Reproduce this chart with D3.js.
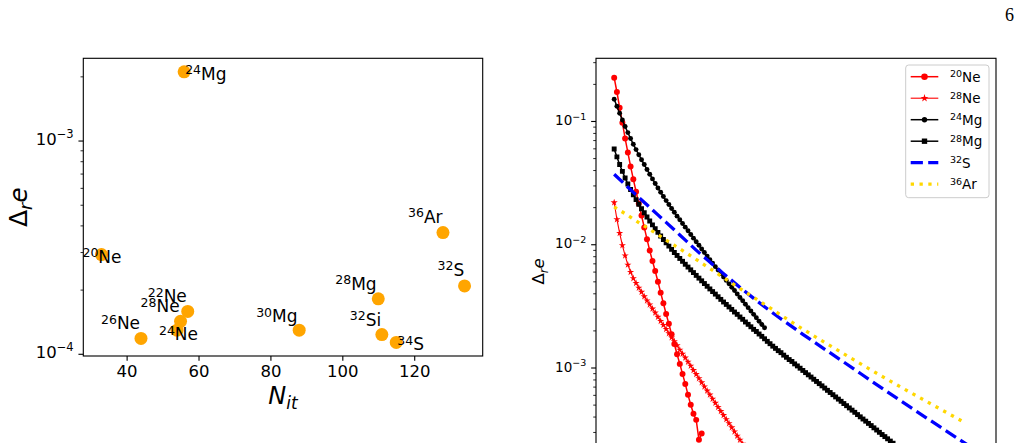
<!DOCTYPE html>
<html>
<head>
<meta charset="utf-8">
<script src="https://cdn.jsdelivr.net/npm/d3@7"></script>
<style>
  body { margin: 0; background: #fff; }
  text { font-family: "DejaVu Sans", sans-serif; }
</style>
</head>
<body>
<svg id="fig" width="1021" height="443"></svg>
<script>
// ---------- left panel: final residual vs number of iterations
const isoA = [24, 20, 36, 32, 28, 22, 28, 26, 24, 30, 32, 34]
const isoEl = ['Mg', 'Ne', 'Ar', 'S', 'Mg', 'Ne', 'Ne', 'Ne', 'Ne', 'Mg', 'Si', 'S']
const nIt = [56, 33, 128, 134, 110, 57, 55, 44, 54, 88, 111, 115]
const dRe = [2.1e-3, 2.92e-4, 3.7e-4, 2.08e-4, 1.81e-4, 1.58e-4, 1.42e-4, 1.18e-4, 1.29e-4, 1.29e-4, 1.23e-4, 1.13e-4]
// where each annotation sits relative to its marker (px)
const labDx = [1, -19, -35, -27, -43, -40, -40, -40, -18, -43, -32, 1]
const labDy = [8, 8, -10, -10, -9, -9, -9, -9, 10, -8, -9, 8]
const leftXTicks = [40, 60, 80, 100, 120]

// ---------- right panel: residual per iteration
const ne20 = [0.2245, 0.1718, 0.1283, 0.0969, 0.0722, 0.0556, 0.0428, 0.0337, 0.0267, 0.0214,
  0.0171, 0.0137, 0.0110, 8.88e-3, 7.32e-3, 6.07e-3, 4.97e-3, 4.05e-3, 3.32e-3, 2.72e-3,
  2.26e-3, 1.86e-3, 1.55e-3, 1.28e-3, 1.07e-3, 8.87e-4, 7.36e-4, 6.00e-4, 4.98e-4, 4.21e-4,
  3.76e-4, 2.59e-4, 2.92e-4]
const ne28 = [0.0218, 0.0159, 0.0123, 9.80e-3, 8.08e-3, 6.81e-3, 5.94e-3, 5.29e-3, 4.84e-3, 4.43e-3,
  4.10e-3, 3.77e-3, 3.49e-3, 3.24e-3, 3.00e-3, 2.78e-3, 2.57e-3, 2.38e-3, 2.21e-3, 2.05e-3,
  1.89e-3, 1.75e-3, 1.63e-3, 1.51e-3, 1.39e-3, 1.29e-3, 1.20e-3, 1.11e-3, 1.03e-3, 9.51e-4,
  8.81e-4, 8.16e-4, 7.56e-4, 7.00e-4, 6.48e-4, 6.01e-4, 5.56e-4, 5.15e-4, 4.77e-4, 4.42e-4,
  4.10e-4, 3.80e-4, 3.52e-4, 3.26e-4, 3.02e-4, 2.79e-4, 2.59e-4, 2.40e-4, 2.22e-4, 2.06e-4,
  1.91e-4, 1.77e-4, 1.64e-4, 1.53e-4, 1.42e-4]
const mg24 = [0.150, 0.1316, 0.1157, 0.1019, 0.0903, 0.0805, 0.0721, 0.0648, 0.0586, 0.0532,
  0.0485, 0.0443, 0.0404, 0.0370, 0.0339, 0.0311, 0.0286, 0.0264, 0.0244, 0.0226,
  0.0210, 0.0195, 0.0182, 0.0169, 0.0158, 0.01475, 0.01376, 0.01285, 0.01199, 0.01121,
  0.01048, 9.80e-3, 9.16e-3, 8.56e-3, 8.01e-3, 7.50e-3, 7.03e-3, 6.58e-3, 6.17e-3, 5.78e-3,
  5.42e-3, 5.09e-3, 4.77e-3, 4.48e-3, 4.21e-3, 3.95e-3, 3.70e-3, 3.48e-3, 3.26e-3, 3.06e-3,
  2.87e-3, 2.70e-3, 2.53e-3, 2.37e-3, 2.23e-3, 2.10e-3]
const mg28 = [0.0593, 0.0511, 0.0444, 0.0390, 0.0345, 0.0308, 0.0278, 0.0252, 0.0230, 0.0211,
  0.0194, 0.0180, 0.01665, 0.01545, 0.01437, 0.01338, 0.01249, 0.01168, 0.01094, 0.01027,
  9.65e-3, 9.09e-3, 8.58e-3, 8.11e-3, 7.67e-3, 7.27e-3, 6.88e-3, 6.53e-3, 6.20e-3, 5.89e-3,
  5.59e-3, 5.31e-3, 5.05e-3, 4.80e-3, 4.56e-3, 4.34e-3, 4.13e-3, 3.94e-3, 3.75e-3, 3.57e-3,
  3.40e-3, 3.25e-3, 3.10e-3, 2.96e-3, 2.82e-3, 2.70e-3, 2.57e-3, 2.46e-3, 2.34e-3, 2.24e-3,
  2.14e-3, 2.04e-3, 1.96e-3, 1.87e-3, 1.79e-3, 1.71e-3, 1.63e-3, 1.56e-3, 1.49e-3, 1.43e-3,
  1.37e-3, 1.32e-3, 1.26e-3, 1.21e-3, 1.16e-3, 1.12e-3, 1.07e-3, 1.03e-3, 9.87e-4, 9.47e-4,
  9.09e-4, 8.72e-4, 8.37e-4, 8.03e-4, 7.71e-4, 7.40e-4, 7.10e-4, 6.81e-4, 6.53e-4, 6.27e-4,
  6.02e-4, 5.77e-4, 5.54e-4, 5.32e-4, 5.10e-4, 4.90e-4, 4.70e-4, 4.51e-4, 4.33e-4, 4.15e-4,
  3.98e-4, 3.82e-4, 3.67e-4, 3.52e-4, 3.38e-4, 3.24e-4, 3.11e-4, 2.98e-4, 2.86e-4, 2.75e-4,
  2.64e-4, 2.53e-4, 2.43e-4, 2.33e-4, 2.24e-4, 2.15e-4, 2.06e-4, 1.98e-4, 1.89e-4, 1.81e-4]
const s32Iter = [1, 5, 10, 15, 20, 25, 32, 40, 48, 56, 70, 85, 100, 115, 128, 134]
const s32Vals = [0.0370, 0.0305, 0.0240, 0.0190, 0.01505, 0.0119, 8.55e-3, 6.03e-3, 4.29e-3, 3.11e-3,
  1.86e-3, 1.106e-3, 6.55e-4, 3.93e-4, 2.54e-4, 2.08e-4]
const ar36Iter = [1, 5, 10, 15, 20, 25, 32, 40, 48, 56, 70, 85, 100, 115, 128]
const ar36Vals = [0.0201, 0.0177, 0.0150, 0.0128, 0.0108, 9.19e-3, 7.28e-3, 5.54e-3, 4.23e-3, 3.25e-3,
  2.05e-3, 1.29e-3, 8.22e-4, 5.34e-4, 3.70e-4]
const rightYDomain = [1.12e-4, 0.3225]
const rightYTicks = [1e-4, 1e-3, 1e-2, 1e-1]

const svg = d3.select('#fig')
const ptPx = 100 / 72

// matplotlib-like 5% margins
function padLin(ext) { const m = (ext[1] - ext[0]) * 0.05; return [ext[0] - m, ext[1] + m] }
function padLog(ext) {
  const a = Math.log10(ext[0]), b = Math.log10(ext[1]), m = (b - a) * 0.05
  return [Math.pow(10, a - m), Math.pow(10, b + m)]
}
function minorTicks(dom) {
  const out = []
  for (let e = Math.floor(Math.log10(dom[0])); e <= Math.ceil(Math.log10(dom[1])); e++)
    for (let k = 2; k <= 9; k++) {
      const v = k * Math.pow(10, e)
      if (v >= dom[0] && v <= dom[1]) out.push(v)
    }
  return out
}
// "10^-n" labels as real text with a superscript
function powLabel(sel, fs, supFs, rise) {
  sel.each(function (d) {
    const t = d3.select(this)
    t.text(null)
    t.append('tspan').attr('font-size', fs).text('10')
    t.append('tspan').attr('font-size', supFs).attr('dy', -rise).text('\u2212' + Math.round(-Math.log10(d)))
  })
}
function isoText(g, a, el, fs, supFs, rise) {
  g.append('tspan').attr('font-size', supFs).attr('dy', -rise).text(a)
  g.append('tspan').attr('font-size', fs).attr('dy', rise).text(el)
}

// ================= left panel
const L = { x0: 83.3, x1: 482.7, y0: 58.3, y1: 356 }
const xL = d3.scaleLinear().domain(padLin(d3.extent(nIt))).range([L.x0, L.x1])
const yL = d3.scaleLog().domain(padLog(d3.extent(dRe))).range([L.y1, L.y0])
const gl = svg.append('g')

gl.append('g').attr('transform', `translate(0,${L.y1})`)
  .call(d3.axisBottom(xL).tickValues(leftXTicks).tickSize(3.5 * ptPx).tickPadding(3.5 * ptPx))
  .call(g => g.select('.domain').remove())
  .call(g => g.selectAll('line').attr('stroke-width', 0.8 * ptPx))
  .call(g => g.selectAll('text').attr('font-size', 16.5).attr('fill', '#000').attr('font-family', 'DejaVu Sans'))

gl.append('g').attr('transform', `translate(${L.x0},0)`)
  .call(d3.axisLeft(yL).tickValues(minorTicks(yL.domain())).tickSize(2 * ptPx).tickFormat(''))
  .call(g => g.select('.domain').remove())
  .call(g => g.selectAll('line').attr('stroke-width', 0.6 * ptPx))
gl.append('g').attr('transform', `translate(${L.x0},0)`)
  .call(d3.axisLeft(yL).tickValues([1e-4, 1e-3]).tickSize(3.5 * ptPx).tickPadding(3.5 * ptPx))
  .call(g => g.select('.domain').remove())
  .call(g => g.selectAll('line').attr('stroke-width', 0.8 * ptPx))
  .call(g => g.selectAll('text').attr('fill', '#000').attr('font-family', 'DejaVu Sans').attr('dy', '0.36em')
    .call(powLabel, 16.5, 11.5, 6.6))

gl.append('rect').attr('x', L.x0).attr('y', L.y0).attr('width', L.x1 - L.x0).attr('height', L.y1 - L.y0)
  .attr('fill', 'none').attr('stroke', '#000').attr('stroke-width', 0.8 * ptPx)

gl.selectAll('circle.pt').data(nIt).join('circle').attr('class', 'pt')
  .attr('cx', d => xL(d)).attr('cy', (d, i) => yL(dRe[i])).attr('r', 6.5).attr('fill', '#ffa500')

gl.selectAll('text.iso').data(nIt).join('text').attr('class', 'iso')
  .attr('x', (d, i) => xL(d) + labDx[i]).attr('y', (d, i) => yL(dRe[i]) + labDy[i])
  .each(function (d, i) { isoText(d3.select(this), isoA[i], isoEl[i], 17, 12.5, 5.5) })

const xlab = gl.append('text').attr('x', (L.x0 + L.x1) / 2).attr('y', 404).attr('text-anchor', 'middle')
  .attr('font-style', 'italic')
xlab.append('tspan').attr('font-size', 24).text('N')
xlab.append('tspan').attr('font-size', 17).attr('dy', 5).text('it')

const ylab = gl.append('text').attr('transform', `translate(27,${(L.y0 + L.y1) / 2}) rotate(-90)`)
  .attr('text-anchor', 'middle')
ylab.append('tspan').attr('font-size', 25).text('\u0394')
ylab.append('tspan').attr('font-size', 17.5).attr('font-style', 'italic').attr('dy', 5).text('r')
ylab.append('tspan').attr('font-size', 25).attr('font-style', 'italic').attr('dy', -5).text('e')

// ================= right panel
const R = { x0: 596, x1: 996, y0: 58.3, y1: 484.7 }
const xR = d3.scaleLinear().domain(padLin([1, d3.max(s32Iter)])).range([R.x0, R.x1])
const yR = d3.scaleLog().domain(rightYDomain).range([R.y1, R.y0])
const gr = svg.append('g')

gr.append('g').attr('transform', `translate(${R.x0},0)`)
  .call(d3.axisLeft(yR).tickValues(minorTicks(yR.domain())).tickSize(2 * ptPx).tickFormat(''))
  .call(g => g.select('.domain').remove())
  .call(g => g.selectAll('line').attr('stroke-width', 0.6 * ptPx))
gr.append('g').attr('transform', `translate(${R.x0},0)`)
  .call(d3.axisLeft(yR).tickValues(rightYTicks.filter(v => v >= yR.domain()[0])).tickSize(3.5 * ptPx).tickPadding(3.5 * ptPx))
  .call(g => g.select('.domain').remove())
  .call(g => g.selectAll('line').attr('stroke-width', 0.8 * ptPx))
  .call(g => g.selectAll('text').attr('fill', '#000').attr('font-family', 'DejaVu Sans').attr('dy', '0.36em')
    .call(powLabel, 13.5, 9.5, 5.5))

const ylabR = gr.append('text').attr('transform', `translate(544,${(R.y0 + R.y1) / 2}) rotate(-90)`)
  .attr('text-anchor', 'middle')
ylabR.append('tspan').attr('font-size', 16.5).text('\u0394')
ylabR.append('tspan').attr('font-size', 11.5).attr('font-style', 'italic').attr('dy', 3.5).text('r')
ylabR.append('tspan').attr('font-size', 16.5).attr('font-style', 'italic').attr('dy', -3.5).text('e')

svg.append('clipPath').attr('id', 'clipR').append('rect')
  .attr('x', R.x0).attr('y', R.y0).attr('width', R.x1 - R.x0).attr('height', R.y1 - R.y0)
const plot = gr.append('g').attr('clip-path', 'url(#clipR)')
const line = d3.line().x(d => xR(d[0])).y(d => yR(d[1]))
const smooth = d3.line().x(d => xR(d[0])).y(d => yR(d[1])).curve(d3.curveMonotoneX)
const byIter = arr => arr.map((v, i) => [i + 1, v])

const series = [
  { name: 'Ne', A: 20, pts: byIter(ne20), color: '#ff0000', w: 1.5, sym: d3.symbolCircle, size: 28 },
  { name: 'Ne', A: 28, pts: byIter(ne28), color: '#ff0000', w: 1.1, sym: d3.symbolStar, size: 16 },
  { name: 'Mg', A: 24, pts: byIter(mg24), color: '#000000', w: 1.5, sym: d3.symbolCircle, size: 19 },
  { name: 'Mg', A: 28, pts: byIter(mg28), color: '#000000', w: 1.5, sym: d3.symbolSquare, size: 24 },
  { name: 'S', A: 32, pts: s32Iter.map((n, i) => [n, s32Vals[i]]), color: '#0000ff', w: 3.3, dash: '12.2,5.3' },
  { name: 'Ar', A: 36, pts: ar36Iter.map((n, i) => [n, ar36Vals[i]]), color: '#ffd700', w: 3.3, dash: '3.3,5.5' }
]

series.forEach(s => {
  plot.append('path').attr('d', (s.sym ? line : smooth)(s.pts)).attr('fill', 'none')
    .attr('stroke', s.color).attr('stroke-width', s.w).attr('stroke-dasharray', s.dash || null)
  if (s.sym) {
    plot.selectAll(null).data(s.pts).join('path')
      .attr('transform', d => `translate(${xR(d[0])},${yR(d[1])})`)
      .attr('d', d3.symbol(s.sym, s.size)).attr('fill', s.color)
  }
})

gr.append('rect').attr('x', R.x0).attr('y', R.y0).attr('width', R.x1 - R.x0).attr('height', R.y1 - R.y0)
  .attr('fill', 'none').attr('stroke', '#000').attr('stroke-width', 0.8 * ptPx)

// legend
const lg = gr.append('g')
lg.append('rect').attr('x', 905.7).attr('y', 65).attr('width', 83.3).attr('height', 132.7).attr('rx', 3)
  .attr('fill', '#fff').attr('fill-opacity', 0.8).attr('stroke', '#cccccc').attr('stroke-width', 1)
series.forEach((s, i) => {
  const y = 76.7 + i * 21.5
  lg.append('line').attr('x1', 910.7).attr('x2', 938.3).attr('y1', y).attr('y2', y)
    .attr('stroke', s.color).attr('stroke-width', s.w).attr('stroke-dasharray', s.dash || null)
  if (s.sym) lg.append('path').attr('transform', `translate(924.5,${y})`)
    .attr('d', d3.symbol(s.sym, s.size * 1.2)).attr('fill', s.color)
  const t = lg.append('text').attr('x', 950).attr('y', y + 5)
  isoText(t, s.A, s.name, 13.5, 9.5, 4.5)
})

// page number
svg.append('text').attr('x', 1005).attr('y', 20.7).attr('font-size', 18)
  .style('font-family', '"Liberation Serif", "DejaVu Serif", serif').text('6')
</script>
</body>
</html>
